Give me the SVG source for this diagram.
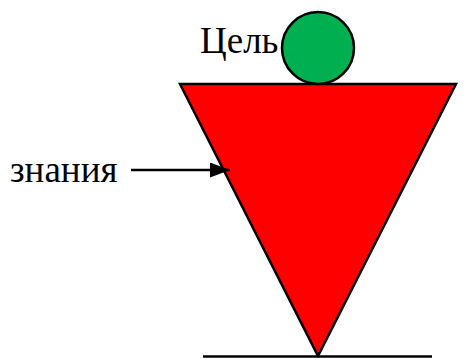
<svg xmlns="http://www.w3.org/2000/svg" width="465" height="358" viewBox="0 0 465 358">
<style>
.t{font-family:"Liberation Serif",serif;font-size:37px;fill:#000}
.s{stroke:#000;stroke-width:2.5}
</style>
<defs>
<marker id="ah" markerWidth="8" markerHeight="6" refX="8" refY="3" orient="auto" markerUnits="strokeWidth">
<path d="M0,0 L8,3 L0,6 Z" fill="#000"/>
</marker>
</defs>
<g id="base"><line x1="203" y1="356.5" x2="432" y2="356.5" class="s"/></g>
<g id="triangle"><polygon points="180,84 456,84 318,356" fill="#ff0000" class="s" stroke-linejoin="miter"/></g>
<g id="goal"><circle cx="318" cy="48" r="36" fill="#00b050" class="s"/><text class="t" x="200" y="53">Цель</text></g>
<g id="knowledge"><text class="t" x="10" y="182">знания</text></g>
<g id="connectors"><line x1="131" y1="170" x2="230" y2="170" stroke="#000" stroke-width="2.5" marker-end="url(#ah)"/></g>
</svg>
